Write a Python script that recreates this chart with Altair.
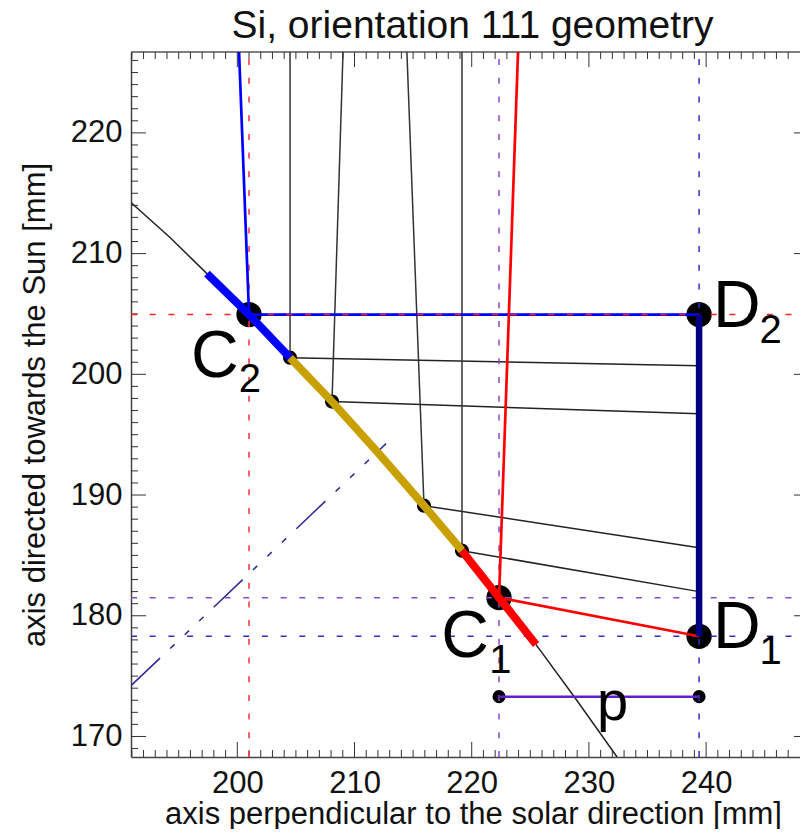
import altair as alt
import pandas as pd

FONT = "Liberation Sans"
X_DOMAIN = [190.93, 248.01]
Y_DOMAIN = [168.3, 226.7]
W, H = 669, 705

# curve of the crystal (x, y in mm)
curve_x = [190.93, 194.26, 197.41, 201.00, 204.50, 208.08, 212.00, 215.93, 219.17, 222.33, 225.49, 228.81, 232.40]
curve_y = [214.23, 211.33, 208.34, 204.95, 201.38, 197.74, 193.51, 189.12, 185.39, 181.50, 177.61, 173.21, 168.30]

C2 = (201.00, 204.95)
C1 = (222.33, 181.50)
D2 = (239.40, 204.95)
D1 = (239.40, 178.30)

small_x = [204.50, 208.08, 215.93, 219.17]
small_y = [201.38, 197.74, 189.12, 185.39]
detector_y = [200.72, 196.74, 185.64, 182.00]
incoming_top_x = [204.50, 209.02, 214.47, 219.17]
TOP = 226.7

red_top_x = 223.95
blue_top_x = 200.15

dashdot_x = [190.93, 212.69]
dashdot_y = [174.21, 194.26]

p_x = [222.33, 239.40]
p_y = [173.30, 173.30]

major_x = [200, 210, 220, 230, 240]
major_y = [170, 180, 190, 200, 210, 220]
minor_x = [v for v in range(191, 248) if v % 10 != 0]
minor_y = [v for v in range(169, 227) if v % 10 != 0]

label_texts = [
    ("C", 196.05, 199.81, 66), ("2", 200.12, 198.57, 40),
    ("D", 240.59, 203.95, 66), ("2", 244.55, 202.63, 40),
    ("C", 217.40, 176.61, 66), ("1", 221.50, 175.29, 40),
    ("D", 240.59, 177.36, 66), ("1", 244.55, 176.03, 40),
    ("p", 230.69, 171.39, 56),
]

xs = alt.Scale(domain=X_DOMAIN, nice=False, zero=False)
ys = alt.Scale(domain=Y_DOMAIN, nice=False, zero=False)
x_axis = alt.Axis(
    title="axis perpendicular to the solar direction [mm]", values=major_x, format="d",
    ticks=False, grid=False, domainColor="#444444", domainWidth=1.5,
    labelFontSize=31, labelFont=FONT, labelColor="#111111", labelPadding=11, labelOverlap=False,
    titleFontSize=31, titleFont=FONT, titleFontWeight="normal", titleColor="#111111",
    titlePadding=1, titleX=342)
y_axis = alt.Axis(
    title="axis directed towards the Sun [mm]", values=major_y, format="d",
    ticks=False, grid=False, domainColor="#444444", domainWidth=1.5,
    labelFontSize=31, labelFont=FONT, labelColor="#111111", labelPadding=9, labelOverlap=False,
    titleFontSize=31, titleFont=FONT, titleFontWeight="normal", titleColor="#111111",
    titlePadding=19)
X = lambda: alt.X("x:Q", scale=xs, axis=x_axis)
Y = lambda: alt.Y("y:Q", scale=ys, axis=y_axis)


def line(px, py, color, width, dash=None):
    df = pd.DataFrame({"x": px, "y": py, "o": range(len(px))})
    kw = dict(color=color, strokeWidth=width, clip=True, strokeCap="butt")
    if dash:
        kw["strokeDash"] = dash
    return alt.Chart(df).mark_line(**kw).encode(X(), Y(), order="o:Q")


def dots(px, py, size):
    df = pd.DataFrame({"x": px, "y": py})
    return alt.Chart(df).mark_circle(color="black", size=size, opacity=1).encode(X(), Y())


layers = []

axis_df = pd.DataFrame({"x": [X_DOMAIN[0]], "y": [Y_DOMAIN[0]]})
layers.append(alt.Chart(axis_df).mark_point(opacity=0).encode(X(), Y()))

# frame top and tick marks pointing inward
layers.append(alt.Chart(axis_df).mark_rule(color="#555555", strokeWidth=1.5).encode(
    x=alt.value(0), x2=alt.value(W), y=alt.value(0)))


def xticks(vals, y0, y1, color="#333333"):
    df = pd.DataFrame({"x": vals})
    return alt.Chart(df).mark_rule(color=color, strokeWidth=1).encode(
        X(), y=alt.value(y0), y2=alt.value(y1))


def yticks(vals, x0, x1, color="#333333"):
    df = pd.DataFrame({"y": vals})
    return alt.Chart(df).mark_rule(color=color, strokeWidth=1).encode(
        Y(), x=alt.value(x0), x2=alt.value(x1))


layers += [
    xticks(major_x, H, H - 15), xticks(minor_x, H, H - 7),
    xticks(major_x, 0, 15), xticks(minor_x, 0, 7),
    yticks(major_y, 0, 15), yticks(minor_y, 0, 7),
    yticks(major_y, W - 6, W),
]

# large and small dots under the lines
layers.append(dots([C2[0], C1[0], D2[0], D1[0]], [C2[1], C1[1], D2[1], D1[1]], 640))
layers.append(dots(small_x, small_y, 200))
layers.append(dots(p_x, p_y, 170))

# thin black curve
layers.append(line(curve_x, curve_y, "#222222", 1.5))

# reflected and incoming rays
for sx, sy, dy, tx in zip(small_x, small_y, detector_y, incoming_top_x):
    layers.append(line([sx, D2[0]], [sy, dy], "#222222", 1.5))
    layers.append(line([sx, tx], [sy, TOP], "#333333", 1.5))

# dash-dot navy line
layers.append(line(dashdot_x, dashdot_y, "#2a2a90", 1.5, [40, 14, 6, 14, 6, 14, 6, 14]))

# guides
dash = [6, 12.7]
red_g = "#ff3040"
layers.append(line([X_DOMAIN[0], X_DOMAIN[1]], [C2[1], C2[1]], "#ff2020", 1.5, dash))
layers.append(line([C2[0], C2[0]], [Y_DOMAIN[0], TOP], red_g, 1.5, dash))
layers.append(line([X_DOMAIN[0], X_DOMAIN[1]], [C1[1], C1[1]], "#8a4cc8", 1.5, dash))
layers.append(line([C1[0], C1[0]], [Y_DOMAIN[0], TOP], "#8a4cc8", 1.5, dash))
layers.append(line([X_DOMAIN[0], X_DOMAIN[1]], [D1[1], D1[1]], "#3030c0", 1.5, dash))
layers.append(line([D1[0], D1[0]], [Y_DOMAIN[0], TOP], "#3030c0", 1.5, dash))

# coloured rays
layers.append(line([C2[0], blue_top_x], [C2[1], TOP], "#0000ff", 2.7))
layers.append(line([C2[0], D2[0]], [C2[1], D2[1]], "#0000ff", 2.7))
layers.append(line([C2[0], D2[0]], [C2[1], D2[1]], "#ff2020", 1.5, [6, 12.7]))
layers.append(line([C1[0], red_top_x], [C1[1], TOP], "#ff0000", 2.7))
layers.append(line([C1[0], D1[0]], [C1[1], D1[1]], "#ff0000", 2.7))

# detector and thick crystal segments
layers.append(line([D2[0], D1[0]], [D2[1], D1[1]], "#000080", 6.5))
layers.append(line(curve_x[2:5], curve_y[2:5], "#0000ff", 8))
layers.append(line(curve_x[4:9], curve_y[4:9], "#c8a000", 8))
layers.append(line(curve_x[8:11], curve_y[8:11], "#ff0000", 8))

# p measure
layers.append(line(p_x, p_y, "#6020c8", 2.5))

# letters
for t, x, y, s in label_texts:
    df = pd.DataFrame({"x": [x], "y": [y], "t": [t]})
    layers.append(alt.Chart(df).mark_text(
        font=FONT, fontSize=s, align="left", baseline="alphabetic", color="black"
    ).encode(X(), Y(), text="t:N"))

chart = alt.layer(*layers).properties(
    width=W, height=H,
    padding={"left": 123, "top": 44, "right": 0, "bottom": 72},
    autosize=alt.AutoSizeParams(type="none"),
    title=alt.TitleParams("Si, orientation 111 geometry", font=FONT, fontSize=39,
                          fontWeight="normal", color="#111111", anchor="middle", offset=5, dx=7),
).configure_view(stroke=None)

chart.save("out.html", embed_options={"renderer": "svg", "actions": False})
